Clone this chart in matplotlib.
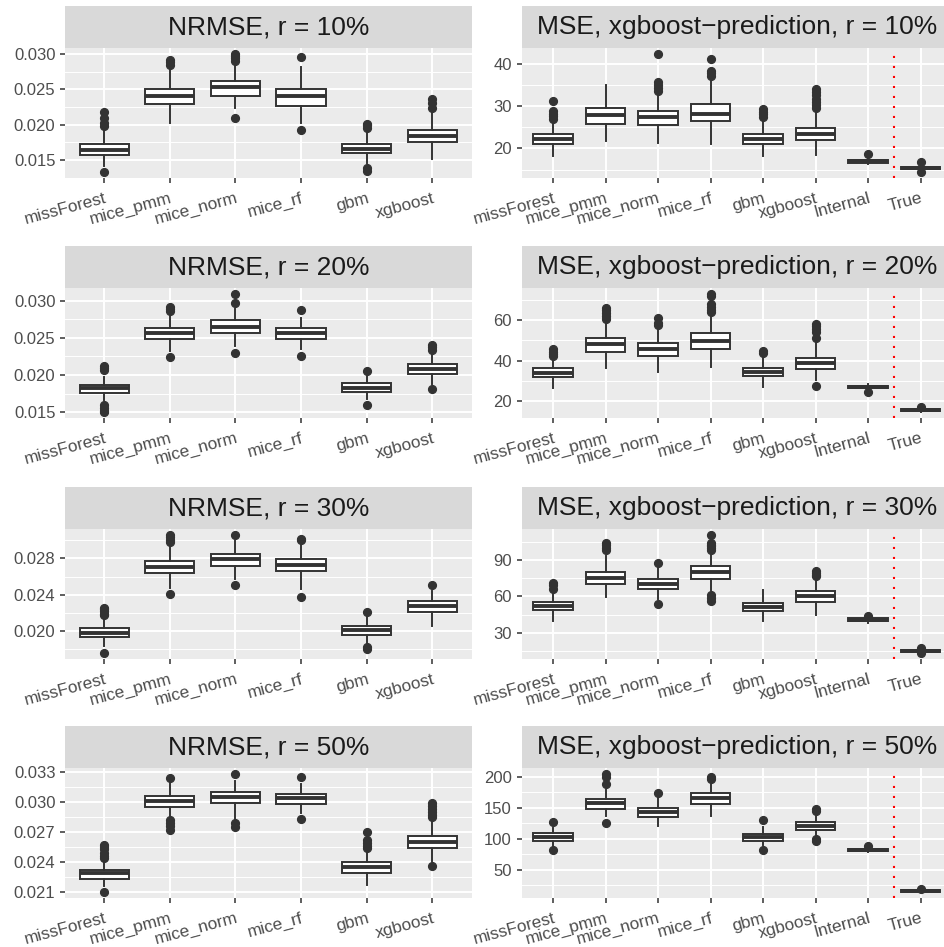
import matplotlib
matplotlib.use("Agg")
import matplotlib.pyplot as plt
from matplotlib.patches import Rectangle
from matplotlib.ticker import FixedLocator, MultipleLocator, FormatStrFormatter

plt.rcParams['font.family'] = ['Liberation Sans', 'DejaVu Sans']

methods_imp = ["missForest", "mice_pmm", "mice_norm", "mice_rf", "gbm", "xgboost"]
methods_mse = methods_imp + ["Internal", "True"]

# Box statistics per method: [lower whisker, Q1, median, Q3, upper whisker]
nrmse10_stats = [[0.0141, 0.01575, 0.01645, 0.0173, 0.0195],
                 [0.0203, 0.02287, 0.0241, 0.02508, 0.0282],
                 [0.0223, 0.02405, 0.02527, 0.02616, 0.0287],
                 [0.0202, 0.0227, 0.0240, 0.0250, 0.0282],
                 [0.0146, 0.0160, 0.0166, 0.0173, 0.0195],
                 [0.0151, 0.0176, 0.0184, 0.0193, 0.0221]]
nrmse10_out = [[0.0218, 0.0209, 0.0203, 0.0198, 0.0133],
               [0.0291, 0.0288, 0.0285],
               [0.0300, 0.0297, 0.0294, 0.0290, 0.0210],
               [0.0295, 0.0192],
               [0.0201, 0.0199, 0.0196, 0.0139, 0.0134],
               [0.0236, 0.0230, 0.0224]]

mse10_stats = [[18.1, 21.0, 22.2, 23.5, 26.5],
               [21.8, 25.8, 27.9, 29.6, 35.0],
               [21.3, 25.5, 27.3, 28.9, 33.0],
               [21.0, 26.5, 28.2, 30.5, 36.3],
               [18.2, 21.1, 22.2, 23.4, 26.8],
               [18.5, 22.0, 23.5, 24.8, 28.8],
               [16.2, 16.6, 17.0, 17.3, 17.8],
               [14.6, 15.1, 15.4, 15.7, 16.3]]
mse10_out = [[31.3, 28.9, 28.2, 27.6, 27.0],
             [],
             [42.3, 35.6, 35.0, 34.3, 33.6],
             [41.2, 38.3, 37.8, 37.0],
             [29.2, 28.6, 28.0, 27.3],
             [33.9, 33.2, 32.5, 31.7, 31.0, 30.3, 29.6],
             [18.7],
             [16.7, 14.4]]

nrmse20_stats = [[0.01656, 0.01758, 0.0182, 0.0187, 0.01967],
                 [0.0232, 0.0248, 0.02568, 0.02635, 0.0281],
                 [0.0239, 0.02568, 0.02644, 0.02733, 0.0289],
                 [0.02346, 0.0248, 0.02568, 0.02635, 0.0277],
                 [0.01678, 0.01776, 0.0183, 0.01887, 0.0199],
                 [0.01878, 0.02012, 0.02079, 0.02145, 0.0230]]
nrmse20_out = [[0.0212, 0.0209, 0.0206, 0.0159, 0.0156, 0.0152, 0.0150],
               [0.0292, 0.0289, 0.0286, 0.0224],
               [0.0309, 0.0297, 0.0230],
               [0.0288, 0.02257],
               [0.02056, 0.0160],
               [0.0240, 0.0237, 0.0233, 0.01807]]

mse20_stats = [[26.3, 31.85, 34.0, 36.5, 41.9],
               [36.5, 44.4, 48.1, 51.3, 59.5],
               [34.2, 42.4, 45.7, 48.5, 56.0],
               [37.0, 45.8, 49.6, 53.7, 63.0],
               [26.9, 32.2, 34.2, 36.6, 42.5],
               [30.4, 35.8, 39.1, 41.4, 50.0],
               [25.9, 26.3, 26.9, 27.6, 28.3],
               [14.6, 15.1, 15.5, 16.0, 16.4]]
mse20_out = [[46.0, 44.5, 43.2, 42.5],
             [66.0, 65.0, 63.5, 62.0, 60.8],
             [61.0, 58.5, 57.5],
             [73.0, 72.0, 68.0, 66.5, 65.0, 64.3],
             [44.8, 43.8],
             [58.3, 57.0, 55.5, 54.0, 51.0, 27.6],
             [24.6],
             [17.2]]

nrmse30_stats = [[0.01835, 0.01927, 0.01978, 0.0203, 0.02128],
                 [0.02477, 0.02639, 0.02705, 0.02771, 0.02954],
                 [0.02569, 0.02712, 0.02793, 0.02851, 0.0299],
                 [0.02459, 0.02657, 0.0273, 0.02796, 0.02954],
                 [0.01853, 0.01952, 0.02004, 0.02048, 0.02158],
                 [0.02048, 0.02213, 0.02275, 0.02327, 0.0244]]
nrmse30_out = [[0.02257, 0.0224, 0.0222, 0.0219, 0.0217, 0.01754],
               [0.0306, 0.0304, 0.0300, 0.0298, 0.0241],
               [0.0306, 0.0251],
               [0.03017, 0.0300, 0.02374],
               [0.0221, 0.01817, 0.0180],
               [0.02503]]

mse30_stats = [[39.7, 48.9, 52.4, 55.7, 62.2],
               [59.5, 70.0, 75.4, 80.3, 93.2],
               [58.1, 66.2, 70.5, 74.3, 83.8],
               [64.9, 74.6, 80.0, 84.6, 95.9],
               [39.7, 47.8, 51.4, 54.9, 64.9],
               [44.6, 55.7, 60.3, 64.3, 74.9],
               [37.8, 39.7, 40.8, 41.9, 42.8],
               [13.9, 14.6, 15.2, 15.9, 16.8]]
mse30_out = [[71.0, 69.5, 66.2],
             [103.5, 102.0, 99.5, 98.5],
             [87.8, 53.5],
             [110.5, 104.0, 102.5, 101.0, 99.5, 98.0, 60.8, 58.5, 56.5],
             [],
             [81.0, 79.5, 78.0, 76.5],
             [44.0],
             [17.8, 13.5]]

nrmse50_stats = [[0.0216, 0.02233, 0.02286, 0.02325, 0.02408],
                 [0.02856, 0.02953, 0.03005, 0.03055, 0.03187],
                 [0.0283, 0.02992, 0.03051, 0.03104, 0.03214],
                 [0.0289, 0.02975, 0.03038, 0.03081, 0.0318],
                 [0.0217, 0.02292, 0.02349, 0.02398, 0.02508],
                 [0.02408, 0.02544, 0.02604, 0.02664, 0.02839]]
nrmse50_out = [[0.02574, 0.0255, 0.0253, 0.0249, 0.0246, 0.0244, 0.0210],
               [0.03244, 0.0282, 0.0279, 0.0276, 0.0272],
               [0.0328, 0.0279, 0.0275],
               [0.03254, 0.0283],
               [0.02697, 0.0262, 0.0259, 0.0256, 0.0254],
               [0.02988, 0.0296, 0.0293, 0.0290, 0.0287, 0.0285, 0.02358]]

mse50_stats = [[88.3, 95.7, 102.7, 108.5, 117.6],
               [136.2, 148.4, 157.4, 164.9, 178.7],
               [120.2, 135.1, 143.6, 150.0, 165.4],
               [136.2, 156.4, 165.4, 173.4, 188.3],
               [89.4, 96.8, 102.7, 108.0, 119.1],
               [104.3, 114.9, 121.3, 127.1, 136.2],
               [78.7, 79.8, 81.9, 83.5, 85.0],
               [13.5, 13.8, 15.7, 17.6, 18.5]]
mse50_out = [[126.6, 80.9],
             [205.0, 200.0, 188.3, 125.0],
             [173.4],
             [200.0, 197.3],
             [130.9, 82.4],
             [147.9, 144.1, 98.9, 96.3],
             [88.3],
             [19.1]]

rates = ["10%", "20%", "30%", "50%"]
nrmse_ticks = [[0.015, 0.020, 0.025, 0.030],
               [0.015, 0.020, 0.025, 0.030],
               [0.020, 0.024, 0.028],
               [0.021, 0.024, 0.027, 0.030, 0.033]]
mse_ticks = [[20, 30, 40], [20, 40, 60], [30, 60, 90], [50, 100, 150, 200]]

nrmse_all = [(nrmse10_stats, nrmse10_out), (nrmse20_stats, nrmse20_out),
             (nrmse30_stats, nrmse30_out), (nrmse50_stats, nrmse50_out)]
mse_all = [(mse10_stats, mse10_out), (mse20_stats, mse20_out),
           (mse30_stats, mse30_out), (mse50_stats, mse50_out)]

W, H = 944, 947
fig = plt.figure(figsize=(W / 100, H / 100), dpi=100)

DARK = "#333333"
PANEL = "#EBEBEB"
STRIP = "#D9D9D9"
STRIP_H = 42
AX_H = 130
row_bottoms = [178, 418, 659, 898]


def make_axes(x0, x1, bottom):
    return fig.add_axes([x0 / W, 1 - bottom / H, (x1 - x0) / W, AX_H / H])


def draw_panel(ax, cats, stats, outs, ticks, title, fmt, vline=None):
    bxp_stats = []
    for name, s, o in zip(cats, stats, outs):
        bxp_stats.append(dict(label=name, whislo=s[0], q1=s[1], med=s[2],
                              q3=s[3], whishi=s[4], fliers=o))
    n = len(cats)
    ax.set_facecolor(PANEL)
    ax.bxp(bxp_stats, positions=list(range(1, n + 1)), widths=0.75,
           showcaps=False, patch_artist=True,
           boxprops=dict(facecolor="white", edgecolor=DARK, linewidth=1.4),
           medianprops=dict(color=DARK, linewidth=2.8, solid_capstyle="butt"),
           whiskerprops=dict(color=DARK, linewidth=1.4),
           flierprops=dict(marker="o", markerfacecolor=DARK, markeredgecolor=DARK,
                           markersize=5.6, linestyle="none"))
    allv = [v for s in stats for v in s] + [v for o in outs for v in o]
    lo, hi = min(allv), max(allv)
    pad = 0.05 * (hi - lo)
    ax.set_ylim(lo - pad, hi + pad)
    ax.set_xlim(0.4, n + 0.6)
    step = ticks[1] - ticks[0]
    ax.yaxis.set_major_locator(FixedLocator(ticks))
    ax.yaxis.set_minor_locator(MultipleLocator(step / 2))
    ax.yaxis.set_major_formatter(FormatStrFormatter(fmt))
    ax.set_xticks(range(1, n + 1))
    ax.set_xticklabels(cats, rotation=15, ha="right", va="top",
                       rotation_mode="anchor", fontsize=12.4)
    ax.set_axisbelow(True)
    ax.grid(which="major", color="white", linewidth=1.4)
    ax.grid(which="minor", axis="y", color="white", linewidth=0.7)
    for sp in ax.spines.values():
        sp.set_visible(False)
    ax.tick_params(which="major", length=3.4, width=1.1, color=DARK,
                   labelcolor="#4D4D4D", pad=3.5)
    ax.tick_params(axis="y", labelsize=12)
    ax.tick_params(axis="x", pad=5.5)
    ax.tick_params(which="minor", length=0)
    if vline is not None:
        ax.axvline(vline, color="red", linewidth=1.5, linestyle=(0, (1, 3.8)))
    ax.add_patch(Rectangle((0, 1), 1, STRIP_H / AX_H, transform=ax.transAxes,
                           facecolor=STRIP, edgecolor="none", clip_on=False))
    ax.text(0.5, 1 + STRIP_H / AX_H / 2, title, transform=ax.transAxes,
            ha="center", va="center", fontsize=19, color="#1A1A1A")


for i in range(4):
    axl = make_axes(65, 471.5, row_bottoms[i])
    st, ou = nrmse_all[i]
    draw_panel(axl, methods_imp, st, ou, nrmse_ticks[i],
               "NRMSE, r = " + rates[i], "%.3f")
    axr = make_axes(521.5, 952, row_bottoms[i])
    st, ou = mse_all[i]
    draw_panel(axr, methods_mse, st, ou, mse_ticks[i],
               "MSE, xgboost\u2212prediction, r = " + rates[i], "%d", vline=7.5)

fig.savefig("out.png", dpi=100)
